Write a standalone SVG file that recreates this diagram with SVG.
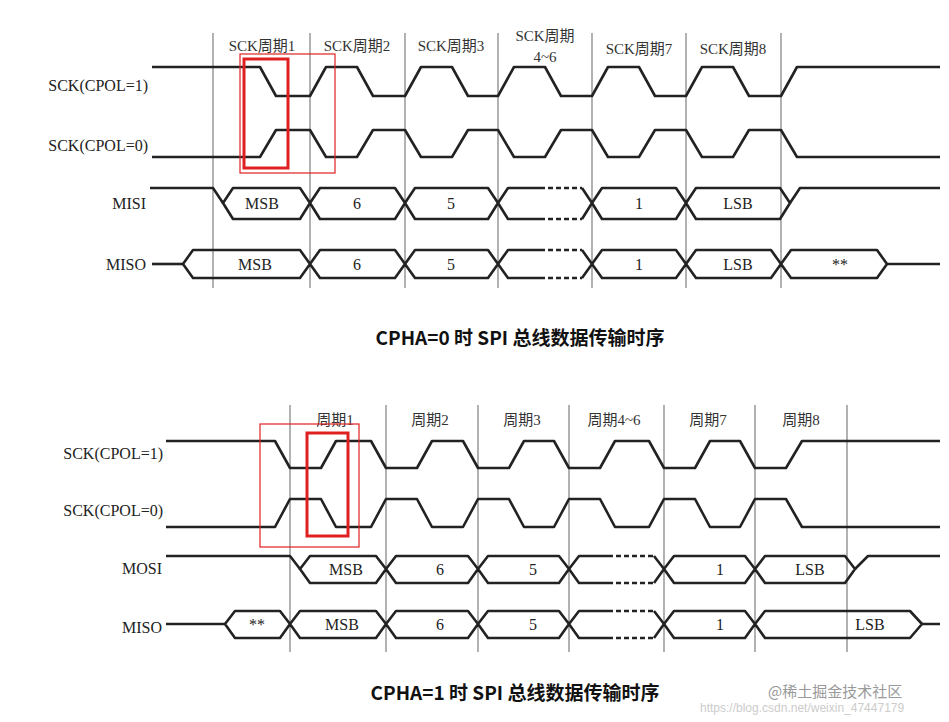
<svg xmlns="http://www.w3.org/2000/svg" width="949" height="722" viewBox="0 0 949 722">
<style>
.sig{fill:none;stroke:#222;stroke-width:2.6;stroke-linejoin:round}
.dash{fill:none;stroke:#222;stroke-width:2.6;stroke-dasharray:5 3}
.grid{stroke:#888;stroke-width:1.3}
.lbl{font-family:"Liberation Serif","Noto Sans CJK SC",serif;font-size:16px;fill:#222}
.hd{font-family:"Liberation Serif","Noto Sans CJK SC",serif;font-size:15px;fill:#333;text-anchor:middle}
.d{font-family:"Liberation Serif",serif;font-size:16px;fill:#222;text-anchor:middle}
.title{font-family:"Noto Sans CJK SC","Noto Sans",sans-serif;font-size:19px;font-weight:bold;fill:#111;text-anchor:middle}
.rb{fill:none;stroke:#e02020}
</style>
<rect width="949" height="722" fill="#fff"/>
<g id="grid-top" class="grid">
<line x1="213" y1="33" x2="213" y2="288"/><line x1="310" y1="33" x2="310" y2="288"/><line x1="405" y1="33" x2="405" y2="288"/><line x1="498" y1="33" x2="498" y2="288"/><line x1="592" y1="33" x2="592" y2="288"/><line x1="686" y1="33" x2="686" y2="288"/><line x1="781" y1="33" x2="781" y2="288"/>
</g>
<g id="head-top">
<text class="hd" x="262" y="51">SCK周期1</text><text class="hd" x="357" y="51">SCK周期2</text><text class="hd" x="451" y="51">SCK周期3</text>
<text class="hd" x="545" y="41">SCK周期</text><text class="hd" x="545" y="62">4~6</text>
<text class="hd" x="639" y="54">SCK周期7</text><text class="hd" x="733" y="54">SCK周期8</text>
</g>
<g id="labels-top" class="lbl" text-anchor="end">
<text x="148" y="91">SCK(CPOL=1)</text><text x="148" y="151">SCK(CPOL=0)</text><text x="146" y="209">MISI</text><text x="146" y="270">MISO</text>
</g>
<g id="signals-top">
<path class="sig" d="M152 67 L260 67 L276 96 L310 96 L326 67 L357 67 L373 96 L405 96 L421 67 L452 67 L468 96 L498 96 L514 67 L545 67 L561 96 L592 96 L608 67 L639 67 L655 96 L686 96 L702 67 L733 67 L749 96 L781 96 L797 67 L940 67"/>
<path class="sig" d="M152 157 L260 157 L276 130 L310 130 L326 157 L357 157 L373 130 L405 130 L421 157 L452 157 L468 130 L498 130 L514 157 L545 157 L561 130 L592 130 L608 157 L639 157 L655 130 L686 130 L702 157 L733 157 L749 130 L781 130 L797 157 L940 157"/>
<path class="sig" d="M150 188 L213 188 L223 203"/>
<path class="sig" d="M223 203 L233 188 L300 188 L310 203 L300 219 L233 219 Z M310 203 L320 188 L395 188 L405 203 L395 219 L320 219 Z M405 203 L415 188 L488 188 L498 203 L488 219 L415 219 Z M592 203 L602 188 L676 188 L686 203 L676 219 L602 219 Z M686 203 L696 188 L780 188 L790 203 L780 219 L696 219 Z"/>
<path class="sig" d="M498 203 L508 188 L540 188 M498 203 L508 219 L540 219 M582 188 L592 203 L582 219 M790 203 L800 188 L940 188"/>
<path class="dash" d="M540 188 L582 188 M540 219 L582 219"/>
<path class="sig" d="M152 264 L183 264"/>
<path class="sig" d="M183 264 L193 250 L300 250 L310 264 L300 278 L193 278 Z M310 264 L320 250 L395 250 L405 264 L395 278 L320 278 Z M405 264 L415 250 L488 250 L498 264 L488 278 L415 278 Z M592 264 L602 250 L676 250 L686 264 L676 278 L602 278 Z M686 264 L696 250 L771 250 L781 264 L771 278 L696 278 Z M781 264 L791 250 L877 250 L887 264 L877 278 L791 278 Z"/>
<path class="sig" d="M498 264 L508 250 L540 250 M498 264 L508 278 L540 278 M582 250 L592 264 L582 278 M887 264 L940 264"/>
<path class="dash" d="M540 250 L582 250 M540 278 L582 278"/>
</g>
<g id="data-top" class="d">
<text x="262" y="209">MSB</text><text x="357" y="209">6</text><text x="451" y="209">5</text><text x="639" y="209">1</text><text x="738" y="209">LSB</text>
<text x="255" y="270">MSB</text><text x="357" y="270">6</text><text x="451" y="270">5</text><text x="639" y="270">1</text><text x="738" y="270">LSB</text><text x="840" y="270">**</text>
</g>
<g id="red-top"><rect class="rb" x="240" y="54" width="95" height="119" stroke-width="1.2"/><rect class="rb" x="244" y="59" width="44" height="109" stroke-width="3"/></g>
<text class="title" x="520" y="345">CPHA=0 时 SPI 总线数据传输时序</text>

<g id="grid-bot" class="grid">
<line x1="290" y1="405" x2="290" y2="652"/><line x1="386" y1="405" x2="386" y2="652"/><line x1="478" y1="405" x2="478" y2="652"/><line x1="569" y1="405" x2="569" y2="652"/><line x1="664" y1="405" x2="664" y2="652"/><line x1="755" y1="405" x2="755" y2="652"/><line x1="847" y1="405" x2="847" y2="652"/>
</g>
<g id="head-bot">
<text class="hd" x="335" y="425">周期1</text><text class="hd" x="430" y="425">周期2</text><text class="hd" x="522" y="425">周期3</text><text class="hd" x="614" y="425">周期4~6</text><text class="hd" x="708" y="425">周期7</text><text class="hd" x="801" y="425">周期8</text>
</g>
<g id="labels-bot" class="lbl" text-anchor="end">
<text x="163" y="459">SCK(CPOL=1)</text><text x="163" y="516">SCK(CPOL=0)</text><text x="162" y="574">MOSI</text><text x="162" y="633">MISO</text>
</g>
<g id="signals-bot">
<path class="sig" d="M166 441 L275 441 L290 468 L321 468 L336 441 L371 441 L386 468 L417 468 L432 441 L463 441 L478 468 L509 468 L524 441 L554 441 L569 468 L600 468 L615 441 L649 441 L664 468 L695 468 L710 441 L740 441 L755 468 L786 468 L802 441 L940 441"/>
<path class="sig" d="M166 527 L275 527 L290 499 L321 499 L336 527 L371 527 L386 499 L417 499 L432 527 L463 527 L478 499 L509 499 L524 527 L554 527 L569 499 L600 499 L615 527 L649 527 L664 499 L695 499 L710 527 L740 527 L755 499 L786 499 L802 527 L940 527"/>
<path class="sig" d="M166 556 L290 556 L300 569"/>
<path class="sig" d="M300 569 L310 556 L376 556 L386 569 L376 583 L310 583 Z M386 569 L396 556 L468 556 L478 569 L468 583 L396 583 Z M478 569 L488 556 L559 556 L569 569 L559 583 L488 583 Z M664 569 L674 556 L745 556 L755 569 L745 583 L674 583 Z M755 569 L765 556 L845 556 L855 569 L845 583 L765 583 Z"/>
<path class="sig" d="M569 569 L579 556 L608 556 M569 569 L579 583 L608 583 M654 556 L664 569 L654 583 M855 569 L868 556 L940 556"/>
<path class="dash" d="M608 556 L654 556 M608 583 L654 583"/>
<path class="sig" d="M166 624 L225 624"/>
<path class="sig" d="M225 624 L235 611 L280 611 L290 624 L280 638 L235 638 Z M290 624 L300 611 L376 611 L386 624 L376 638 L300 638 Z M386 624 L396 611 L468 611 L478 624 L468 638 L396 638 Z M478 624 L488 611 L559 611 L569 624 L559 638 L488 638 Z M664 624 L674 611 L745 611 L755 624 L745 638 L674 638 Z M755 624 L765 611 L910 611 L922 624 L910 638 L765 638 Z"/>
<path class="sig" d="M569 624 L579 611 L608 611 M569 624 L579 638 L608 638 M654 611 L664 624 L654 638 M922 624 L940 624"/>
<path class="dash" d="M608 611 L654 611 M608 638 L654 638"/>
</g>
<g id="data-bot" class="d">
<text x="346" y="575">MSB</text><text x="440" y="575">6</text><text x="533" y="575">5</text><text x="720" y="575">1</text><text x="810" y="575">LSB</text>
<text x="257" y="630">**</text><text x="342" y="630">MSB</text><text x="440" y="630">6</text><text x="533" y="630">5</text><text x="720" y="630">1</text><text x="870" y="630">LSB</text>
</g>
<g id="red-bot"><rect class="rb" x="260" y="424" width="99" height="123" stroke-width="1.2"/><rect class="rb" x="307" y="433" width="41" height="103" stroke-width="3"/></g>
<text class="title" x="515" y="700">CPHA=1 时 SPI 总线数据传输时序</text>
<text x="768" y="697" font-family="Noto Sans CJK SC,sans-serif" font-size="15" fill="#999">@稀土掘金技术社区</text>
<text x="700" y="712" font-family="Liberation Sans,sans-serif" font-size="12" fill="#ccc">https://blog.csdn.net/weixin_47447179</text>
</svg>
